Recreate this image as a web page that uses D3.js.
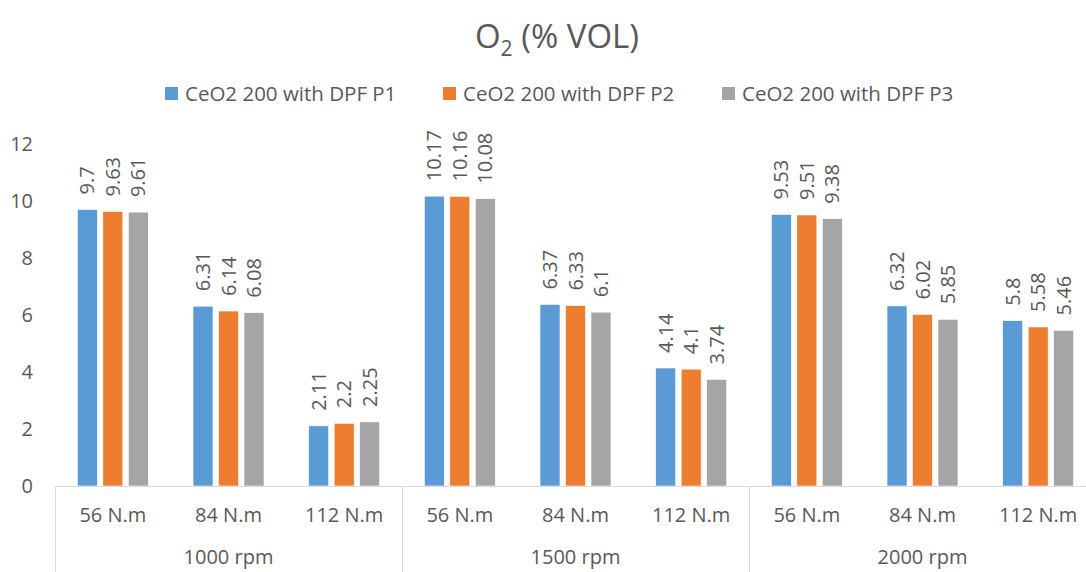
<!DOCTYPE html>
<html><head><meta charset="utf-8">
<script src="https://cdn.jsdelivr.net/npm/d3@7"></script>
<style>body{margin:0;background:#fff}svg{display:block}text{font-family:"Open Sans",sans-serif;fill:#595959}</style>
</head><body><svg id="c" width="1086" height="572"></svg>
<script>
const groups = ["1000 rpm","1500 rpm","2000 rpm"];
const loads = ["56 N.m","84 N.m","112 N.m"];
const seriesNames = ["CeO2 200 with DPF P1","CeO2 200 with DPF P2","CeO2 200 with DPF P3"];
const colors = ["#5B9BD5","#ED7D31","#A5A5A5"];
const p1 = [9.7,6.31,2.11,10.17,6.37,4.14,9.53,6.32,5.8];
const p2 = [9.63,6.14,2.2,10.16,6.33,4.1,9.51,6.02,5.58];
const p3 = [9.61,6.08,2.25,10.08,6.1,3.74,9.38,5.85,5.46];
const yTicks = [0,2,4,6,8,10,12];

const svg = d3.select("#c");
const cats = [];
groups.forEach((g,gi)=>loads.forEach((l,li)=>cats.push({key:g+"|"+l,group:g,load:l,i:gi*3+li})));
const vals = [p1,p2,p3];

const x0 = d3.scaleBand().domain(cats.map(c=>c.key)).range([55,1096]).paddingInner(0).paddingOuter(0);
const x1 = d3.scaleBand().domain(seriesNames).range([0,x0.bandwidth()]).paddingInner(0.216).paddingOuter(0.877);
const y = d3.scaleLinear().domain([0,12]).range([486,144]);

// title
const t = svg.append("text").attr("x",557).attr("y",48).attr("text-anchor","middle").style("font-size","33px");
t.append("tspan").text("O");
t.append("tspan").attr("dy",8).style("font-size","21px").text("2");
t.append("tspan").attr("dy",-8).text(" (% VOL)");

// legend
const legX = [165,443,722];
seriesNames.forEach((s,i)=>{
  svg.append("rect").attr("x",legX[i]).attr("y",87).attr("width",13).attr("height",13).attr("fill",colors[i]);
  svg.append("text").attr("x",legX[i]+20).attr("y",101).style("font-size","20.5px").text(s);
});

// y axis labels
const ya = svg.append("g").attr("transform","translate(33,0)").call(d3.axisLeft(y).tickValues(yTicks).tickSize(0).tickPadding(0));
ya.select(".domain").remove();
ya.selectAll("text").style("font-size","20px").style("font-family","'Open Sans',sans-serif").attr("fill","#595959");

// bars
seriesNames.forEach((s,si)=>{
  svg.append("g").selectAll("rect").data(cats).join("rect")
    .attr("x",d=>x0(d.key)+x1(s)).attr("width",x1.bandwidth())
    .attr("y",d=>y(vals[si][d.i])).attr("height",d=>y(0)-y(vals[si][d.i]))
    .attr("fill",colors[si]).attr("stroke","#fff").attr("stroke-width",0.6);
  svg.append("g").selectAll("text").data(cats).join("text")
    .attr("transform",d=>`translate(${x0(d.key)+x1(s)+x1.bandwidth()/2},${y(vals[si][d.i])-15}) rotate(-90)`)
    .attr("dy","0.35em").style("font-size","20px").text(d=>vals[si][d.i]);
});

// x axis
const axisG = svg.append("g");
axisG.append("line").attr("x1",55).attr("x2",1096).attr("y1",y(0)+0.5).attr("y2",y(0)+0.5).attr("stroke","#d9d9d9").attr("stroke-width",1);
[0,3,6,9].forEach(k=>{
  const xx = 55 + k*x0.step();
  axisG.append("line").attr("x1",xx+0.5).attr("x2",xx+0.5).attr("y1",y(0)).attr("y2",572).attr("stroke","#d9d9d9");
});
const xa = svg.append("g").attr("transform",`translate(0,${y(0)})`).call(d3.axisBottom(x0).tickSize(0).tickPadding(0).tickFormat(k=>k.split("|")[1]));
xa.select(".domain").remove();
xa.selectAll("text").attr("y",36).attr("dy",null).style("font-size","20px").style("font-family","'Open Sans',sans-serif").attr("fill","#595959");
svg.append("g").selectAll("text").data(groups).join("text")
  .attr("x",(g,gi)=>55+(gi*3+1.5)*x0.step()).attr("y",564).attr("text-anchor","middle").style("font-size","20px").text(g=>g);
</script></body></html>
